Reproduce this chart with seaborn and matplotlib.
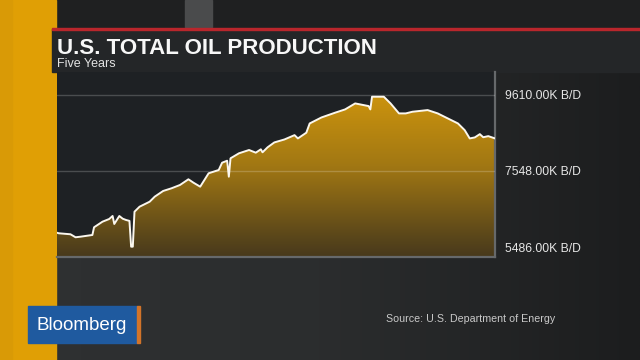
import numpy as np
import matplotlib
matplotlib.use("Agg")
import matplotlib.pyplot as plt
from matplotlib.colors import LinearSegmentedColormap
from matplotlib.patches import Rectangle
import seaborn as sns

# U.S. total oil production, weekly, thousand barrels per day
weeks = [0, 1, 8, 11, 14, 21, 22, 27, 31, 33, 34, 37, 39, 41, 43, 44, 45, 46, 49, 55,
         58, 63, 68, 73, 78, 81, 85, 90, 96, 98, 101, 102, 103, 108, 114, 118, 121, 122, 125, 129,
         135, 141, 143, 148, 150, 157, 165, 171, 177, 185, 186, 187, 194, 198, 203, 207, 211, 220, 226, 232,
         238, 242, 245, 248, 251, 253, 256, 260]
production = [5880, 5865, 5838, 5757, 5773, 5819, 6027, 6178, 6251, 6332, 6116, 6332, 6259, 6224, 6200, 5503, 5503, 6448, 6583, 6718,
              6854, 7008, 7081, 7170, 7324, 7232, 7124, 7486, 7575, 7772, 7826, 7394, 7891, 8026, 8115, 8043, 8134, 8053, 8188, 8320,
              8400, 8517, 8428, 8583, 8833, 8995, 9122, 9212, 9374, 9302, 9212, 9555, 9555, 9374, 9104, 9104, 9149, 9194, 9104, 8968,
              8833, 8652, 8428, 8455, 8544, 8460, 8490, 8428]
tick_values = [5486, 7548, 9610]
tick_labels = ["5486.00K B/D", "7548.00K B/D", "9610.00K B/D"]

title = "U.S. TOTAL OIL PRODUCTION"
subtitle = "Five Years"
source = "Source: U.S. Department of Energy"

sns.set_theme(style="dark")
plt.rcParams["font.family"] = ["Liberation Sans", "DejaVu Sans"]

fig = plt.figure(figsize=(6.4, 3.6), dpi=100)

# backdrop in pixel coordinates
bg = fig.add_axes([0, 0, 1, 1])
bg.set_xlim(0, 640)
bg.set_ylim(360, 0)
bg.axis("off")
back_cmap = LinearSegmentedColormap.from_list("back", ["#2f3132", "#2b2d2e", "#1c1d1e"])
bg.imshow(np.linspace(0, 1, 256).reshape(1, -1), cmap=back_cmap, extent=[0, 640, 360, 0], aspect="auto")
bg.add_patch(Rectangle((0, 0), 640, 28, color="#1f2021"))
bg.add_patch(Rectangle((185, 0), 27, 27, color="#4a4b4c"))
bg.add_patch(Rectangle((0, 0), 56, 360, color="#e09f05"))
bg.add_patch(Rectangle((0, 0), 12, 360, color="#d99a06"))
bg.add_patch(Rectangle((52, 29), 588, 43, color="#242628"))
bg.add_patch(Rectangle((52, 28), 588, 2.2, color="#b9262c"))
bg.text(57, 53.5, title, color="#f7f7f7", fontsize=16, fontweight="bold", va="baseline")
bg.text(57, 67, subtitle, color="#e2e2e2", fontsize=9, va="baseline")
bg.text(386, 321.5, source, color="#c9c9c9", fontsize=7.7, va="baseline")
bg.add_patch(Rectangle((28, 306), 109, 37, color="#1f5a9f"))
bg.add_patch(Rectangle((136.5, 306), 3, 37, color="#d2742a"))
bg.text(36, 330, "Bloomberg", color="white", fontsize=13.5, va="baseline")

# chart
ax = fig.add_axes([57 / 640, 1 - 256.7 / 360, 438 / 640, (256.7 - 72) / 360])
ax.set_facecolor("#1e2124")
ymin, ymax = 5232, 10223
ax.set_xlim(weeks[0], weeks[-1])
ax.set_ylim(ymin, ymax)

fill = ax.fill_between(weeks, production, ymin, color="none", lw=0)
gold = LinearSegmentedColormap.from_list("gold", ["#47391c", "#a27813", "#d99c0c"])
grad = ax.imshow(np.linspace(0, 1, 256).reshape(-1, 1), cmap=gold, origin="lower",
                 extent=[weeks[0], weeks[-1], ymin, ymax], aspect="auto", zorder=1)
grad.set_clip_path(fill.get_paths()[0], transform=ax.transData)

sns.lineplot(x=weeks, y=production, ax=ax, color="#fbf7ee", lw=1.4, zorder=3)

ax.set_yticks(tick_values)
ax.set_yticklabels(tick_labels)
ax.yaxis.tick_right()
ax.tick_params(axis="y", length=0, pad=7, labelsize=8.7, labelcolor="#e6e6e6")
ax.set_xticks([])
ax.set_xlabel("")
ax.set_ylabel("")
ax.grid(axis="y", color="white", alpha=0.2, lw=1)
ax.set_axisbelow(False)
ax.yaxis.get_gridlines()[0].set_visible(False)
for side in ["top", "left"]:
    ax.spines[side].set_visible(False)
for side in ["right", "bottom"]:
    ax.spines[side].set_visible(True)
    ax.spines[side].set_color("#66696b")
    ax.spines[side].set_linewidth(1.6)

fig.savefig("out.png", dpi=100)
plt.close(fig)
